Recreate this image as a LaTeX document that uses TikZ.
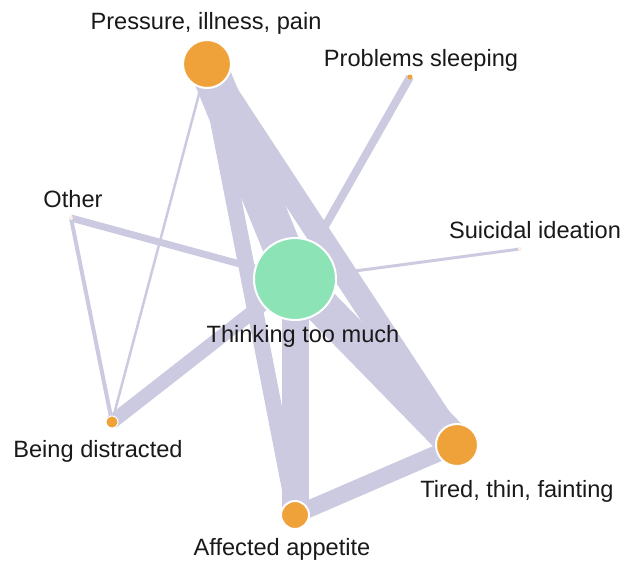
\documentclass[tikz,border=0pt]{standalone}
\usepackage{fontspec}
\setmainfont{Liberation Sans}
\usetikzlibrary{backgrounds}
\definecolor{tiecol}{RGB}{204,202,224}
\definecolor{symcol}{RGB}{240,162,58}
\definecolor{corecol}{RGB}{140,228,182}
\begin{document}
\begin{tikzpicture}[
		x=0.5pt, y=-0.5pt,
		symptom/.style={circle, fill=symcol, draw=white, line width=1pt, inner sep=0pt, minimum size=#1},
		core/.style={circle, fill=corecol, draw=white, line width=1pt, inner sep=0pt, minimum size=41pt},
		faint/.style={circle, fill=symcol!15, inner sep=0pt, minimum size=2pt},
		tie/.style={draw=tiecol, line width=#1},
		lbl/.style={anchor=base, text=black!90, font=\fontsize{11.8}{13}\selectfont}
		]
	\useasboundingbox (0,0) rectangle (633,562);
	% symptom nodes
	\node [symptom=24pt] (press) at (207,64) {};
	\node [symptom=2.5pt, draw=none] (sleep) at (410,77) {};
	\node [faint] (other) at (71,218) {};
	\node [faint] (suic) at (520,249) {};
	\node [core] (think) at (295,279) {};
	\node [symptom=6pt, line width=0.5pt] (distr) at (112,422) {};
	\node [symptom=21pt] (tired) at (457,445) {};
	\node [symptom=14pt] (appet) at (295,515) {};
	% labels
	\node [lbl] (pressl) at (206,29) {Pressure, illness, pain};
	\node [lbl] (sleepl) at (421,66) {Problems sleeping};
	\node [lbl] (otherl) at (73,207) {Other};
	\node [lbl] (suicl) at (535,238) {Suicidal ideation};
	\node [lbl] (thinkl) at (303,342) {Thinking too much};
	\node [lbl] (distrl) at (98,457) {Being distracted};
	\node [lbl] (tiredl) at (517,497) {Tired, thin, fainting};
	\node [lbl] (appetl) at (282,555) {Affected appetite};
	% ties
	\begin{scope}[on background layer]
		\draw [tie=19pt] (press.center) -- (think.center);
		\draw [tie=12pt] (press.center) -- (tired.center);
		\draw [tie=8pt] (press.center) -- (appet.center);
		\draw [tie=1.25pt] (press.center) -- (distr.center);
		\draw [tie=18pt] (think.center) -- (tired.center);
		\draw [tie=13.5pt] (think.center) -- (appet.center);
		\draw [tie=7pt] (think.center) -- (distr.center);
		\draw [tie=3.5pt] (think.center) -- (other.center);
		\draw [tie=4pt] (think.center) -- (sleep.center);
		\draw [tie=1.5pt] (think.center) -- (suic.center);
		\draw [tie=2pt] (other.center) -- (distr.center);
		\draw [tie=8.5pt] (appet.center) -- (tired.center);
	\end{scope}
\end{tikzpicture}
\end{document}
